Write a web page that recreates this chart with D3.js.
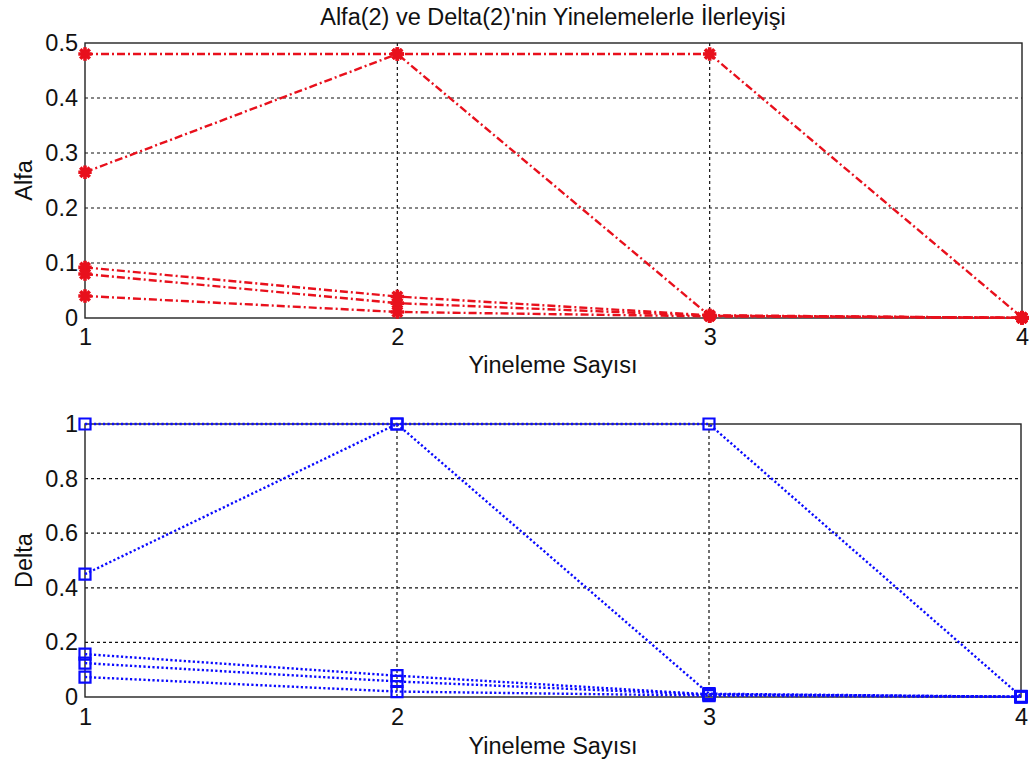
<!DOCTYPE html>
<html>
<head>
<meta charset="utf-8">
<script src="https://cdn.jsdelivr.net/npm/d3@7"></script>
<style>
  html, body { margin: 0; padding: 0; background: #fff; }
  svg { display: block; }
  text { font-family: "Liberation Sans", Arial, sans-serif; fill: #111; }
</style>
</head>
<body>
<svg id="chart" width="1033" height="765"></svg>
<script>
// Iteration numbers on the x axis
const iterations = [1, 2, 3, 4];

// Alfa(2) values per iteration, one array per run
const alfaRun1 = [0.48, 0.48, 0.48, 0.001];
const alfaRun2 = [0.265, 0.48, 0.004, 0.0005];
const alfaRun3 = [0.092, 0.039, 0.005, 0.0003];
const alfaRun4 = [0.08, 0.027, 0.004, 0.0002];
const alfaRun5 = [0.04, 0.011, 0.003, 0.0001];

// Delta(2) values per iteration, one array per run
const deltaRun1 = [1, 1, 1, 0.002];
const deltaRun2 = [0.45, 1, 0.012, 0.001];
const deltaRun3 = [0.157, 0.078, 0.01, 0.0008];
const deltaRun4 = [0.124, 0.057, 0.008, 0.0006];
const deltaRun5 = [0.073, 0.02, 0.005, 0.0004];

// Tick labels
const xTicks = [1, 2, 3, 4];
const alfaTicks = [0, 0.1, 0.2, 0.3, 0.4, 0.5];
const deltaTicks = [0, 0.2, 0.4, 0.6, 0.8, 1];

const titleText = "Alfa(2) ve Delta(2)'nin Yinelemelerle İlerleyişi";
const xLabelText = "Yineleme Sayısı";

const svg = d3.select("#chart");
const fmt = d3.format("~g");
const FONT = 23.5;

// Eight-armed asterisk marker (plus + cross)
const asterisk8 = {
  draw(ctx, size) {
    const r = Math.sqrt(size) / 2;
    const d = r * Math.SQRT1_2;
    ctx.moveTo(0, -r); ctx.lineTo(0, r);
    ctx.moveTo(-r, 0); ctx.lineTo(r, 0);
    ctx.moveTo(-d, -d); ctx.lineTo(d, d);
    ctx.moveTo(-d, d); ctx.lineTo(d, -d);
  }
};

function panel(opts) {
  const { top, bottom, left, right, series, ticks, domain, yLabel,
          color, dash, lineWidth, marker, markerSize, markerWidth, tickPad } = opts;

  const x = d3.scaleLinear().domain([1, 4]).range([left, right]);
  const y = d3.scaleLinear().domain(domain).range([bottom, top]);
  const g = svg.append("g");

  // grid
  g.append("g").selectAll("line")
    .data(ticks.slice(1, -1)).join("line")
    .attr("x1", left).attr("x2", right)
    .attr("y1", d => y(d)).attr("y2", d => y(d))
    .attr("stroke", "#111").attr("stroke-width", 1.2)
    .attr("stroke-dasharray", "3,3");
  g.append("g").selectAll("line")
    .data(xTicks.slice(1, -1)).join("line")
    .attr("x1", d => x(d)).attr("x2", d => x(d))
    .attr("y1", top).attr("y2", bottom)
    .attr("stroke", "#111").attr("stroke-width", 1.2)
    .attr("stroke-dasharray", "3,3");

  // frame
  g.append("rect")
    .attr("x", left).attr("y", top)
    .attr("width", right - left).attr("height", bottom - top)
    .attr("fill", "none").attr("stroke", "#222").attr("stroke-width", 1.4);

  // tick labels via d3 axes
  const ya = g.append("g").attr("transform", `translate(${left},0)`)
    .call(d3.axisLeft(y).tickValues(ticks).tickSize(0).tickPadding(7).tickFormat(fmt));
  ya.select(".domain").remove();
  ya.selectAll("text").attr("font-size", FONT).attr("font-family", null).attr("fill", "#111");

  const xa = g.append("g").attr("transform", `translate(0,${bottom})`)
    .call(d3.axisBottom(x).tickValues(xTicks).tickSize(0).tickPadding(tickPad).tickFormat(fmt));
  xa.select(".domain").remove();
  xa.selectAll("text").attr("font-size", FONT).attr("font-family", null).attr("fill", "#111");

  // lines
  const line = d3.line().x((d, i) => x(iterations[i])).y(d => y(d));
  g.append("g").selectAll("path")
    .data(series).join("path")
    .attr("d", line)
    .attr("fill", "none")
    .attr("stroke", color).attr("stroke-width", lineWidth)
    .attr("stroke-dasharray", dash);

  // markers
  const sym = d3.symbol().type(marker).size(markerSize);
  series.forEach(s => {
    g.append("g").selectAll("path")
      .data(s).join("path")
      .attr("transform", (d, i) => `translate(${x(iterations[i])},${y(d)})`)
      .attr("d", sym)
      .attr("fill", "none")
      .attr("stroke", color).attr("stroke-width", markerWidth);
  });

  // y label
  g.append("text")
    .attr("transform", `translate(32,${(top + bottom) / 2}) rotate(-90)`)
    .attr("text-anchor", "middle")
    .attr("font-size", FONT)
    .text(yLabel);

  return { x, y };
}

panel({
  top: 43, bottom: 318, left: 85, right: 1022,
  series: [alfaRun1, alfaRun2, alfaRun3, alfaRun4, alfaRun5],
  ticks: alfaTicks, domain: [0, 0.5], yLabel: "Alfa",
  color: "#e8101c", dash: "8,3,2,3", lineWidth: 2.4,
  marker: asterisk8, markerSize: 180, markerWidth: 3.6, tickPad: 10
});

panel({
  top: 424, bottom: 697, left: 85, right: 1021,
  series: [deltaRun1, deltaRun2, deltaRun3, deltaRun4, deltaRun5],
  ticks: deltaTicks, domain: [0, 1], yLabel: "Delta",
  color: "#0a0aff", dash: "2.2,2.3", lineWidth: 2.4,
  marker: d3.symbolSquare, markerSize: 121, markerWidth: 2.2, tickPad: 11
});

// title and x labels
svg.append("text")
  .attr("x", 553).attr("y", 25)
  .attr("text-anchor", "middle").attr("font-size", FONT)
  .text(titleText);
svg.append("text")
  .attr("x", 553).attr("y", 373)
  .attr("text-anchor", "middle").attr("font-size", FONT)
  .text(xLabelText);
svg.append("text")
  .attr("x", 553).attr("y", 754)
  .attr("text-anchor", "middle").attr("font-size", FONT)
  .text(xLabelText);
</script>
</body>
</html>
